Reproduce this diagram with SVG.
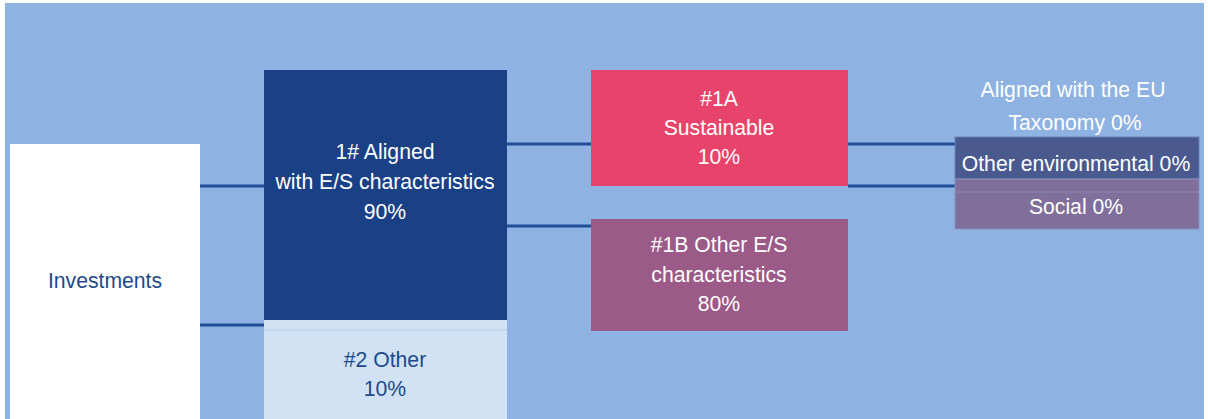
<svg xmlns="http://www.w3.org/2000/svg" width="1208" height="419" viewBox="0 0 1208 419">
<style>
text{font-family:"Liberation Sans",Arial,sans-serif;font-size:21.2px;text-anchor:middle}
.w{fill:#ffffff}
.d{fill:#1f4a8a}
.c{stroke:#1f4e96;stroke-width:3;fill:none}
</style>
<rect x="0" y="0" width="1208" height="419" fill="#ffffff"/>
<rect x="5" y="3" width="1199" height="416" fill="#8eb2e1"/>
<g id="connectors">
<line class="c" x1="200" y1="186" x2="264" y2="186"/>
<line class="c" x1="200" y1="325" x2="264" y2="325"/>
<line class="c" x1="507" y1="144" x2="591" y2="144"/>
<line class="c" x1="507" y1="226" x2="591" y2="226"/>
<line class="c" x1="848" y1="144" x2="955" y2="144"/>
<line class="c" x1="848" y1="186" x2="955" y2="186"/>
</g>
<g id="investments">
<rect x="10" y="144" width="190" height="275" fill="#ffffff"/>
<text class="d" x="105" y="288">Investments</text>
</g>
<g id="aligned">
<rect x="264" y="70" width="243" height="250" fill="#1a4185"/>
<text class="w" x="385" y="159">1# Aligned</text>
<text class="w" x="385" y="189">with E/S characteristics</text>
<text class="w" x="385" y="219">90%</text>
</g>
<g id="other">
<rect x="264" y="320" width="243" height="99" fill="#d0e2f4"/>
<line x1="264" y1="330" x2="507" y2="330" stroke="#b9d2ee" stroke-width="1"/>
<text class="d" x="385" y="367">#2 Other</text>
<text class="d" x="385" y="396">10%</text>
</g>
<g id="sustainable">
<rect x="591" y="70" width="257" height="116" fill="#e8436a"/>
<text class="w" x="719" y="106">#1A</text>
<text class="w" x="719" y="135">Sustainable</text>
<text class="w" x="719" y="164">10%</text>
</g>
<g id="otheres">
<rect x="591" y="219" width="257" height="112" fill="#9b5a87"/>
<text class="w" x="719" y="252">#1B Other E/S</text>
<text class="w" x="719" y="282">characteristics</text>
<text class="w" x="719" y="311">80%</text>
</g>
<g id="taxonomy">
<text class="w" x="1073" y="97">Aligned with the EU</text>
<text class="w" x="1075" y="130">Taxonomy 0%</text>
</g>
<g id="otherenv">
<rect x="955" y="137" width="244" height="42" fill="#4b5a8e" stroke="#6a80b8" stroke-width="1"/>
<text class="w" x="1076" y="171">Other environmental 0%</text>
</g>
<g id="social">
<rect x="955" y="179" width="244" height="50" fill="#7f6f9a" stroke="#8a8fc0" stroke-width="1"/>
<line x1="955" y1="192" x2="1199" y2="192" stroke="#8a86b4" stroke-width="1"/>
<text class="w" x="1076" y="214">Social 0%</text>
</g>
</svg>
